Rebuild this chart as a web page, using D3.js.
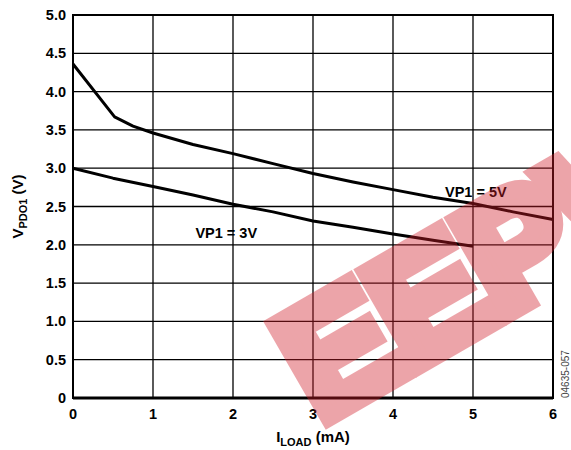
<!DOCTYPE html>
<html>
<head>
<meta charset="utf-8">
<script src="https://cdn.jsdelivr.net/npm/d3@7"></script>
<style>
  body { margin: 0; background: #fff; }
  text { font-family: "Liberation Sans", Arial, sans-serif; }
</style>
</head>
<body>
<div id="chart"></div>
<script>
// data
const iLoad5 = [0, 0.52, 0.75, 1, 1.5, 2, 2.5, 3, 3.5, 4, 4.5, 5, 5.5, 6];
const vpdo5  = [4.36, 3.67, 3.55, 3.46, 3.31, 3.19, 3.06, 2.93, 2.82, 2.72, 2.62, 2.54, 2.43, 2.33];
const iLoad3 = [0, 0.5, 1, 1.5, 2, 2.5, 3, 3.5, 4, 4.5, 5];
const vpdo3  = [3.0, 2.87, 2.76, 2.65, 2.53, 2.43, 2.31, 2.23, 2.14, 2.06, 1.98];
const xTicks = [0, 1, 2, 3, 4, 5, 6];
const yTicks = [0, 0.5, 1, 1.5, 2, 2.5, 3, 3.5, 4, 4.5, 5];
const yTickLabels = ["0", "0.5", "1.0", "1.5", "2.0", "2.5", "3.0", "3.5", "4.0", "4.5", "5.0"];

const W = 571, H = 450;
const margin = {top: 15, right: 18, bottom: 52, left: 73};

const svg = d3.select("#chart").append("svg")
  .attr("width", W).attr("height", H);

const x = d3.scaleLinear().domain([0, 6]).range([margin.left, W - margin.right]);
const y = d3.scaleLinear().domain([0, 5]).range([H - margin.bottom, margin.top]);

/* grid */
svg.append("g").selectAll("line.v").data(xTicks).join("line")
  .attr("x1", d => x(d)).attr("x2", d => x(d))
  .attr("y1", y(0)).attr("y2", y(5))
  .attr("stroke", "#000").attr("stroke-width", 1.3);
svg.append("g").selectAll("line.h").data(yTicks).join("line")
  .attr("x1", x(0)).attr("x2", x(6))
  .attr("y1", d => y(d)).attr("y2", d => y(d))
  .attr("stroke", "#000").attr("stroke-width", 1.3);

/* frame */
svg.append("rect")
  .attr("x", x(0)).attr("y", y(5))
  .attr("width", x(6) - x(0)).attr("height", y(0) - y(5))
  .attr("fill", "none").attr("stroke", "#000").attr("stroke-width", 2);
svg.append("line")
  .attr("x1", x(0)).attr("x2", x(6)).attr("y1", y(0)).attr("y2", y(0))
  .attr("stroke", "#000").attr("stroke-width", 3);

/* tick labels */
svg.append("g").selectAll("text").data(yTicks).join("text")
  .attr("x", x(0) - 7).attr("y", d => y(d) + 5)
  .attr("text-anchor", "end")
  .attr("font-size", 14.5).attr("font-weight", "bold")
  .text((d, i) => yTickLabels[i]);
svg.append("g").selectAll("text").data(xTicks).join("text")
  .attr("x", d => x(d)).attr("y", y(0) + 21)
  .attr("text-anchor", "middle")
  .attr("font-size", 14.5).attr("font-weight", "bold")
  .text(d => d);

/* curves */
const line = d3.line().x(d => x(d[0])).y(d => y(d[1]));
svg.append("path")
  .attr("d", line(d3.zip(iLoad5, vpdo5)))
  .attr("fill", "none").attr("stroke", "#000").attr("stroke-width", 3)
  .attr("stroke-linejoin", "round");
svg.append("path")
  .attr("d", line(d3.zip(iLoad3, vpdo3)))
  .attr("fill", "none").attr("stroke", "#000").attr("stroke-width", 3)
  .attr("stroke-linejoin", "round");

/* curve labels */
svg.append("text")
  .attr("x", x(4.65)).attr("y", y(2.62))
  .attr("font-size", 14.5).attr("font-weight", "bold")
  .text("VP1 = 5V");
svg.append("text")
  .attr("x", x(1.53)).attr("y", y(2.09))
  .attr("font-size", 14.5).attr("font-weight", "bold")
  .text("VP1 = 3V");

/* axis titles */
const yt = svg.append("text")
  .attr("transform", `translate(23, ${(y(0) + y(5)) / 2}) rotate(-90)`)
  .attr("text-anchor", "middle")
  .attr("font-size", 15).attr("font-weight", "bold");
yt.append("tspan").text("V");
yt.append("tspan").attr("font-size", 11).attr("dy", 4).text("PDO1");
yt.append("tspan").attr("dy", -4).text(" (V)");

const xt = svg.append("text")
  .attr("x", (x(0) + x(6)) / 2).attr("y", 442)
  .attr("text-anchor", "middle")
  .attr("font-size", 15).attr("font-weight", "bold");
xt.append("tspan").text("I");
xt.append("tspan").attr("font-size", 11).attr("dy", 4).text("LOAD");
xt.append("tspan").attr("dy", -4).text(" (mA)");

/* figure code */
svg.append("text")
  .attr("transform", `translate(569, ${y(0)}) rotate(-90)`)
  .attr("font-size", 10).attr("fill", "#444")
  .text("04635-057");

/* watermark, drawn over the chart */
const wm = svg.append("g")
  .attr("opacity", 0.4)
  .attr("transform", "translate(330, 424) rotate(-30)");
wm.append("text")
  .attr("x", -8).attr("y", -6)
  .attr("font-size", 156).attr("font-weight", "bold")
  .attr("fill", "#d21e2a").attr("stroke", "#d21e2a").attr("stroke-width", 18)
  .attr("stroke-linejoin", "miter")
  .text("EEPW");
</script>
</body>
</html>
